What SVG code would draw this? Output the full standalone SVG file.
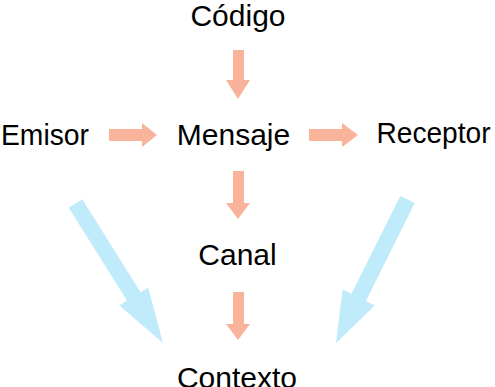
<svg xmlns="http://www.w3.org/2000/svg" width="495" height="387" viewBox="0 0 495 387">
<style>
.lbl{font-family:"Liberation Sans",Arial,sans-serif;font-size:30px;fill:#000;text-anchor:middle}
.o{fill:#F9B39B}
.b{fill:#BFEBFA}
</style>
<rect width="495" height="387" fill="#fff"/>
<g id="connectors">
<polygon class="o" points="233,50 244,50 244,80 250,80 238,99 226,80 233,80"/>
<polygon class="o" points="109,129 142,129 142,123 157,135 142,147 142,141 109,141"/>
<polygon class="o" points="309,129 342,129 342,123 358,135 342,147 342,141 309,141"/>
<polygon class="o" points="233,171 244,171 244,203 250,203 238,219 226,203 233,203"/>
<polygon class="o" points="233,292 244,292 244,324 250,324 238,340 226,324 233,324"/>
<polygon class="b" points="82.3,199.3 140.6,292.2 148.2,287.4 163,343 119.4,305.4 127,300.6 68.7,207.7"/>
<polygon class="b" points="414.7,203.1 365.9,301 374.8,305.4 336,343 342.6,289.4 351.5,293.8 400.3,195.9"/>
</g>
<g id="codigo"><text class="lbl" x="238" y="26">Código</text></g>
<g id="emisor"><text class="lbl" x="45" y="145" textLength="88" lengthAdjust="spacingAndGlyphs">Emisor</text></g>
<g id="mensaje"><text class="lbl" x="233.5" y="145">Mensaje</text></g>
<g id="receptor"><text class="lbl" x="433.5" y="143" textLength="114" lengthAdjust="spacingAndGlyphs">Receptor</text></g>
<g id="canal"><text class="lbl" x="237.5" y="265">Canal</text></g>
<g id="contexto"><text class="lbl" x="237" y="388">Contexto</text></g>
</svg>
